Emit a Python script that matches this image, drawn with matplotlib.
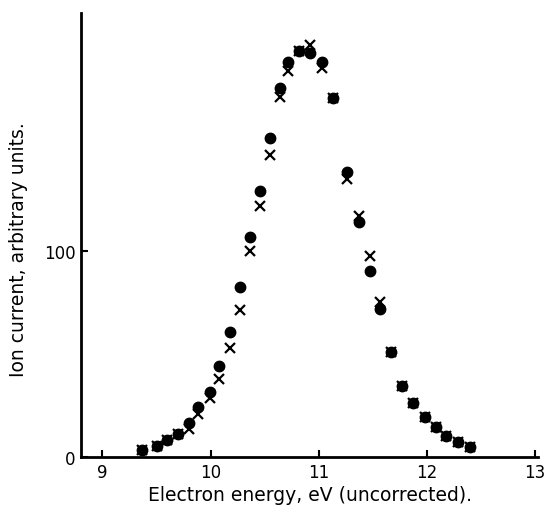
import numpy as np
import matplotlib
matplotlib.use('Agg')
import matplotlib.pyplot as plt

energy = [9.37, 9.50, 9.60, 9.70, 9.80, 9.88, 9.99, 10.08, 10.18, 10.27,
          10.36, 10.46, 10.55, 10.64, 10.72, 10.82, 10.92, 11.03, 11.13, 11.26,
          11.37, 11.47, 11.57, 11.67, 11.77, 11.87, 11.98, 12.08, 12.18, 12.29,
          12.40]

# filled circles
dots = [3.4, 5.2, 8.3, 11.2, 16.4, 24.1, 31.7, 44.3, 60.9, 82.4,
        106.7, 129.3, 154.7, 179.0, 191.9, 197.2, 196.1, 191.9, 174.1, 138.2,
        113.9, 90.4, 71.8, 50.8, 34.6, 26.2, 19.3, 14.4, 10.3, 7.1,
        4.7]

# crosses
crosses = [3.4, 5.2, 8.3, 11.2, 13.6, 20.9, 28.5, 37.9, 52.9, 71.5,
           99.9, 122.0, 146.6, 174.6, 187.5, 197.0, 199.8, 188.7, 174.1, 135.0,
           117.0, 97.7, 75.1, 50.8, 34.6, 26.2, 19.3, 14.4, 10.3, 7.1,
           4.7]

x_ticks = [9, 10, 11, 12, 13]
y_ticks = [0, 100]

fig = plt.figure(figsize=(5.46, 5.10), dpi=100)
ax = fig.add_axes([0.148, 0.102, 0.838, 0.8705])

ax.plot(energy, dots, 'o', color='black', markersize=7.5, zorder=3)
ax.plot(energy, crosses, 'x', color='black', markersize=7, markeredgewidth=1.6, zorder=4)

ax.set_xlim(8.8, 13.03)
ax.set_ylim(0, 215.5)

ax.spines['top'].set_visible(False)
ax.spines['right'].set_visible(False)
ax.spines['left'].set_linewidth(2)
ax.spines['bottom'].set_linewidth(2)

ax.set_xticks(x_ticks)
ax.set_yticks(y_ticks)
ax.tick_params(direction='in', length=5, width=1.5, labelsize=12, pad=4)

ax.set_xlabel('Electron energy, eV (uncorrected).', fontsize=13.5, labelpad=3)
ax.set_ylabel('Ion current, arbitrary units.', fontsize=13.5, labelpad=6)
ax.yaxis.set_label_coords(-0.115, 0.47)

fig.savefig('out.png', dpi=100)
